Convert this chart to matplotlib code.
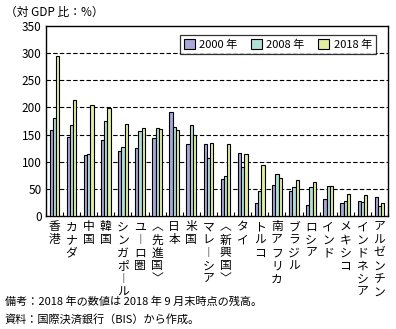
import numpy as np
import matplotlib
matplotlib.use("Agg")
import matplotlib.pyplot as plt

plt.rcParams['font.family'] = ['Noto Sans CJK JP', 'DejaVu Sans']

# ------------------------------------------------
# data (対 GDP 比：%)
# ------------------------------------------------
categories = ["香港", "カナダ", "中国", "韓国", "シンガポール", "ユーロ圏", "〈先進国〉",
              "日本", "米国", "マレーシア", "〈新興国〉", "タイ", "トルコ", "南アフリカ",
              "ブラジル", "ロシア", "インド", "メキシコ", "インドネシア", "アルゼンチン"]
series_names = ["2000 年", "2008 年", "2018 年"]
v2000 = [158, 146, 113, 141, 120, 126, 143, 191, 133, 133, 68, 117, 24, 57, 47, 20, 31, 24, 28, 35]
v2008 = [181, 167, 115, 176, 128, 157, 163, 165, 168, 107, 74, 91, 47, 78, 54, 54, 55, 28, 26, 18]
v2018 = [295, 213, 204, 199, 170, 163, 161, 159, 150, 135, 133, 115, 94, 70, 67, 63, 55, 41, 39, 24]
colors = ["#a9a8d8", "#b2e0d6", "#e1eda2"]
ticks = [0, 50, 100, 150, 200, 250, 300, 350]


def vertical(label):
    swap = {"ー": "︱", "〈": "︿", "〉": "﹀"}
    return "\n".join(swap.get(c, c) for c in label)


fig = plt.figure(figsize=(3.96, 3.29), dpi=100)
ax = fig.add_axes([0.116, 0.343, 0.864, 0.578])

x = np.arange(len(categories))
w = 0.19
for i, vals in enumerate([v2000, v2008, v2018]):
    ax.bar(x + (i - 1) * w, vals, width=w, color=colors[i], edgecolor="black",
           linewidth=0.8, label=series_names[i], zorder=3)

ax.set_xlim(-0.5, len(categories) - 0.5)
ax.set_ylim(0, 350)
ax.set_yticks(ticks)
ax.set_yticklabels([str(t) for t in ticks], fontsize=8.5)
ax.tick_params(axis="y", length=0, pad=3)
for t in ticks[1:-1]:
    ax.axhline(t, color="black", linestyle=(0, (4, 2)), linewidth=0.8, zorder=1)

ax.set_xticks(np.arange(len(categories) + 1) - 0.5)
ax.set_xticklabels([])
ax.tick_params(axis="x", direction="in", length=3, width=0.8)
for i, c in enumerate(categories):
    ax.text(i, -8, vertical(c), ha="center", va="top", fontsize=8.5,
            linespacing=1.0, transform=ax.transData)

for s in ax.spines.values():
    s.set_linewidth(1.0)

leg = ax.legend(loc="upper right", ncol=3, fontsize=8, frameon=True, fancybox=False,
                edgecolor="black", handlelength=1.0, handleheight=1.0,
                handletextpad=0.4, columnspacing=1.2, borderpad=0.35,
                bbox_to_anchor=(0.98, 0.98))
leg.get_frame().set_linewidth(0.9)
leg.set_zorder(5)

fig.text(0.012, 0.962, "（対 GDP 比：%）", fontsize=8.5, va="center")
fig.text(0.012, 0.083, "備考：2018 年の数値は 2018 年 9 月末時点の残高。", fontsize=8, va="center")
fig.text(0.012, 0.030, "資料：国際決済銀行（BIS）から作成。", fontsize=8, va="center")

fig.savefig("out.png", dpi=100)
